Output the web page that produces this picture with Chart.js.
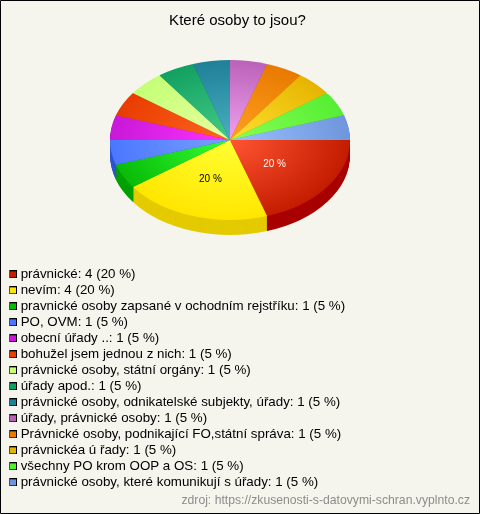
<!DOCTYPE html>
<html><head><meta charset="utf-8">
<style>html,body{margin:0;padding:0;background:#fff}#w{width:480px;height:514px;position:relative;background:#f5f5ee;box-sizing:border-box}canvas{display:block}</style>
<script src="https://cdn.jsdelivr.net/npm/chart.js@4"></script>
</head><body><div id="w"><canvas id="c" width="480" height="514"></canvas></div>
<script>
const titleText = 'Které osoby to jsou?';
const sourceText = 'zdroj: https://zkusenosti-s-datovymi-schran.vyplnto.cz';
const categories = ['právnické','nevím','pravnické osoby zapsané v ochodním rejstříku','PO, OVM','obecní úřady ..','bohužel jsem jednou z nich','právnické osoby, státní orgány','úřady apod.','právnické osoby, odnikatelské subjekty, úřady','úřady, právnické osoby','Právnické osoby, podnikající FO,státní správa','právnickéa ú řady','všechny PO krom OOP a OS','právnické osoby, které komunikují s úřady'];
const counts = [4,4,1,1,1,1,1,1,1,1,1,1,1,1];
const percents = [20,20,5,5,5,5,5,5,5,5,5,5,5,5];
const baseColors = ['#c41c00','#ffe600','#08bb08','#4a77ff','#c818d8','#e83c00','#c4ff77','#12a060','#1f8098','#ba62b8','#e87a00','#e6b400','#55ee33','#6f96dc'];
const lightColors = ['#ff5533','#ffff33','#33ff33','#7aa0ff','#ff33ff','#ff6622','#e8ffa0','#44cc88','#4aafc0','#f0a0f0','#ffa020','#ffe030','#88ff55','#9ac0ff'];
const sideColors = ['#a80000','#e3cb00','#00a000','#2d55cc','#a000b0','#c03000','#a0d060','#0a8050','#106878','#984898','#c06000','#c09400','#40c020','#5078c0'];
const labelColors = ['#ffffff','#000000'];
const SQUASH = 2/3, DEPTH = 15, CY = 140, R = 120;

function box(color){
  const c = document.createElement('canvas'); c.width = 8; c.height = 8;
  const x = c.getContext('2d');
  x.fillStyle = '#000'; x.fillRect(0,0,8,8);
  x.fillStyle = color; x.fillRect(1,1,6,6);
  return c;
}
const squash = (ctx, arc) => {
  ctx.translate(arc.x, CY); ctx.scale(1, SQUASH); ctx.translate(-arc.x, -arc.y);
};
const pie3d = {
  id: 'pie3d',
  beforeLayout(chart){
    const l = chart.legend;
    if (!l._patched) {
      const fit = l.fit;
      l.fit = function(){ fit.call(this); this.width = 15; };
      l._patched = true;
    }
  },
  afterLayout(chart){
    const l = chart.legend;
    l.left = 9.33; l.right = 480; l.top = 265; l.bottom = 500;
  },
  beforeDatasetsDraw(chart){
    const ctx = chart.ctx, arcs = chart.getDatasetMeta(0).data;
    for (let d = DEPTH; d >= 1; d--) {
      arcs.forEach((arc, i) => {
        const saved = arc.options;
        arc.options = Object.assign({}, saved, {backgroundColor: sideColors[i]});
        ctx.save(); ctx.translate(0, d); squash(ctx, arc); arc.draw(ctx); ctx.restore();
        arc.options = saved;
      });
    }
    ctx.save(); squash(ctx, arcs[0]);
  },
  afterDatasetsDraw(chart){
    const ctx = chart.ctx, arcs = chart.getDatasetMeta(0).data;
    ctx.restore();
    ctx.font = '10px "Liberation Sans"'; ctx.textAlign = 'center'; ctx.textBaseline = 'middle';
    arcs.forEach((arc, i) => {
      if (percents[i] < 20) return;
      const p = arc.getCenterPoint();
      ctx.fillStyle = labelColors[i];
      ctx.fillText(percents[i] + ' %', p.x - (i === 0 ? 4 : 1), 1 + CY + (p.y - arc.y) * SQUASH);
    });
  },
  beforeDraw(chart){
    const c = chart.ctx;
    c.save(); c.strokeStyle = '#000'; c.lineWidth = 1;
    c.beginPath(); c.rect(0.5, 0.5, 479, 513); c.stroke(); c.restore();
  }
};
new Chart(document.getElementById('c'), {
  type: 'pie',
  plugins: [pie3d],
  data: { labels: categories, datasets: [{ data: counts, borderWidth: 0,
    backgroundColor(ctx){
      const a = ctx.chart.chartArea, i = ctx.dataIndex;
      const cx = (a.left + a.right) / 2, cy = (a.top + a.bottom) / 2;
      const g = ctx.chart.ctx.createRadialGradient(cx, cy, 0, cx, cy, R);
      g.addColorStop(0, lightColors[i]); g.addColorStop(1, baseColors[i]);
      return g;
    } }] },
  options: {
    responsive: false, animation: false, events: [],
    rotation: 90, radius: R,
    layout: { padding: { left: 5, right: 10 } },
    plugins: {
      tooltip: { enabled: false },
      title: { display: true, text: titleText, color: '#000', font: { family: '"Liberation Sans"', size: 15, weight: 'normal', lineHeight: 1.2 }, padding: { top: 12, bottom: 0 } },
      subtitle: { display: true, position: 'bottom', align: 'end', text: sourceText, color: '#8c8c8c', font: { family: '"Liberation Sans"', size: 12.2, weight: 'normal', lineHeight: 1.2 }, padding: { top: 243.4, bottom: 6 } },
      legend: {
        position: 'right', align: 'start',
        labels: {
          color: '#000', font: { family: '"Liberation Sans"', size: 13.33 }, padding: 2.67, boxHeight: 9,
          usePointStyle: true, pointStyleWidth: 2,
          generateLabels(){
            return categories.map((c, i) => ({
              text: c + ': ' + counts[i] + ' (' + percents[i] + ' %)',
              pointStyle: box(baseColors[i]), fontColor: '#000', lineWidth: 0, strokeStyle: 'transparent', fillStyle: baseColors[i], hidden: false, index: i
            }));
          }
        }
      }
    }
  }
});
</script></body></html>
